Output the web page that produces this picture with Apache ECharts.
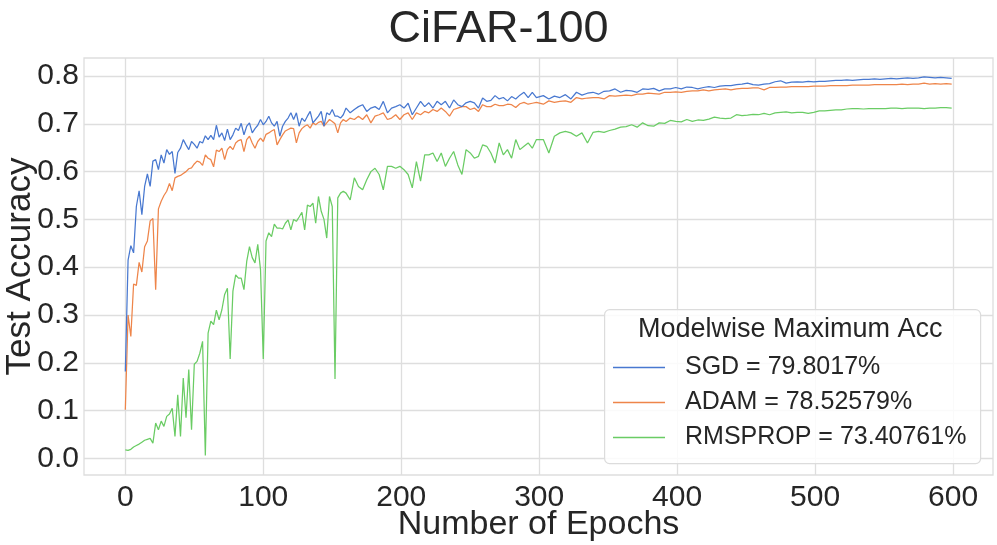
<!DOCTYPE html>
<html><head><meta charset="utf-8">
<script src="https://cdn.jsdelivr.net/npm/echarts/dist/echarts.min.js"></script>
<style>html,body{margin:0;padding:0;background:#fff}#c{width:997px;height:545px}</style>
</head><body><div id="c"></div>
<script>
const epochs = [0,2,4,6,8,10,12,14,16,18,20,22,24,26,28,30,32,34,36,38,40,42,44,46,48,50,52,54,56,58,60,62,64,66,68,70,72,74,76,78,80,82,84,86,88,90,92,94,96,98,100,102,104,106,108,110,112,114,116,118,120,122,124,126,128,130,132,134,136,138,140,142,144,146,148,150,152,154,156,158,160,
163,166,169,172,175,178,181,184,187,190,193,196,199,202,205,208,211,214,217,220,223,226,229,232,235,238,241,244,247,250,253,256,259,262,265,268,271,274,277,280,283,286,289,292,295,298,
303,307,311,315,319,323,327,331,335,339,343,347,351,355,359,363,367,371,375,379,383,387,391,395,399,403,407,411,415,419,423,427,431,435,439,443,447,451,455,459,463,467,471,475,479,483,487,491,495,499,503,507,511,515,519,523,527,531,535,539,543,547,551,555,559,563,567,571,575,579,583,587,591,595,599];

const sgd = [0.182,0.415,0.445,0.430,0.527,0.560,0.510,0.569,0.595,0.569,0.622,0.625,0.604,0.635,0.618,0.646,0.636,0.642,0.596,0.640,0.649,0.667,0.656,0.646,0.663,0.657,0.649,0.663,0.660,0.675,0.667,0.676,0.667,0.697,0.672,0.681,0.665,0.689,0.667,0.677,0.691,0.686,0.701,0.677,0.695,0.702,0.681,0.690,0.697,0.709,0.698,0.705,0.716,0.702,0.695,0.705,0.674,0.695,0.705,0.712,0.723,0.709,0.723,0.695,0.712,0.705,0.716,0.726,0.702,0.709,0.716,0.726,0.695,0.723,0.719,0.730,0.716,0.716,0.712,0.719,0.733,
0.723,0.730,0.736,0.740,0.726,0.733,0.736,0.730,0.747,0.723,0.733,0.736,0.740,0.733,0.743,0.719,0.733,0.747,0.736,0.744,0.733,0.747,0.740,0.747,0.733,0.750,0.740,0.736,0.744,0.747,0.744,0.733,0.754,0.747,0.749,0.759,0.752,0.755,0.748,0.757,0.752,0.760,0.766,0.755,0.766,0.755,
0.759,0.752,0.758,0.755,0.761,0.752,0.766,0.760,0.764,0.766,0.762,0.768,0.769,0.773,0.766,0.770,0.769,0.766,0.773,0.772,0.774,0.769,0.773,0.773,0.776,0.773,0.777,0.776,0.773,0.776,0.778,0.776,0.779,0.780,0.780,0.782,0.783,0.785,0.782,0.781,0.783,0.784,0.788,0.790,0.785,0.787,0.788,0.787,0.789,0.788,0.789,0.789,0.790,0.791,0.791,0.792,0.791,0.792,0.793,0.793,0.794,0.793,0.794,0.795,0.794,0.795,0.796,0.795,0.796,0.798,0.797,0.796,0.797,0.796,0.795];

const adam = [0.102,0.300,0.255,0.365,0.362,0.410,0.390,0.443,0.455,0.497,0.502,0.353,0.522,0.538,0.550,0.559,0.575,0.560,0.587,0.590,0.592,0.596,0.600,0.606,0.608,0.616,0.622,0.620,0.613,0.635,0.628,0.625,0.610,0.645,0.642,0.649,0.625,0.646,0.653,0.646,0.660,0.665,0.667,0.642,0.667,0.674,0.660,0.649,0.663,0.670,0.663,0.678,0.681,0.685,0.688,0.656,0.667,0.677,0.685,0.688,0.691,0.690,0.660,0.681,0.690,0.695,0.698,0.691,0.702,0.698,0.703,0.705,0.695,0.702,0.709,0.705,0.700,0.681,0.702,0.709,0.705,
0.712,0.709,0.716,0.709,0.719,0.702,0.716,0.719,0.723,0.709,0.712,0.719,0.709,0.719,0.723,0.709,0.723,0.719,0.726,0.723,0.730,0.726,0.733,0.726,0.716,0.730,0.733,0.736,0.736,0.730,0.733,0.726,0.740,0.736,0.736,0.741,0.738,0.738,0.741,0.740,0.734,0.742,0.745,0.741,0.743,0.745,
0.741,0.748,0.745,0.747,0.748,0.745,0.755,0.752,0.754,0.755,0.755,0.752,0.759,0.758,0.759,0.760,0.759,0.762,0.762,0.764,0.763,0.762,0.766,0.766,0.767,0.766,0.768,0.769,0.769,0.771,0.769,0.771,0.772,0.773,0.771,0.773,0.774,0.774,0.775,0.775,0.771,0.776,0.776,0.777,0.777,0.778,0.778,0.778,0.778,0.779,0.779,0.779,0.780,0.780,0.780,0.780,0.781,0.781,0.781,0.781,0.782,0.782,0.782,0.782,0.782,0.783,0.782,0.783,0.783,0.785,0.783,0.784,0.783,0.784,0.783];

const rmsprop = [0.018,0.017,0.019,0.024,0.027,0.030,0.034,0.038,0.040,0.042,0.032,0.074,0.060,0.078,0.067,0.088,0.093,0.105,0.046,0.133,0.046,0.168,0.085,0.186,0.060,0.197,0.203,0.220,0.245,0.006,0.262,0.287,0.280,0.310,0.290,0.311,0.343,0.356,0.208,0.350,0.384,0.377,0.377,0.353,0.412,0.443,0.420,0.409,0.448,0.395,0.208,0.455,0.472,0.464,0.490,0.482,0.482,0.480,0.492,0.499,0.478,0.500,0.496,0.505,0.515,0.478,0.530,0.527,0.534,0.492,0.548,0.517,0.500,0.461,0.548,0.527,0.166,0.545,0.555,0.559,0.555,
0.541,0.587,0.569,0.562,0.583,0.600,0.607,0.594,0.562,0.611,0.611,0.607,0.611,0.604,0.594,0.566,0.621,0.580,0.635,0.635,0.639,0.621,0.639,0.611,0.628,0.642,0.614,0.594,0.646,0.639,0.628,0.632,0.656,0.653,0.639,0.618,0.660,0.635,0.646,0.628,0.667,0.646,0.653,0.660,0.649,0.667,
0.667,0.639,0.674,0.681,0.684,0.681,0.674,0.681,0.660,0.682,0.684,0.682,0.686,0.689,0.693,0.694,0.698,0.693,0.702,0.696,0.695,0.702,0.701,0.707,0.705,0.704,0.709,0.705,0.708,0.707,0.710,0.714,0.712,0.711,0.712,0.719,0.717,0.718,0.720,0.719,0.722,0.719,0.723,0.724,0.725,0.723,0.724,0.724,0.722,0.724,0.727,0.727,0.728,0.729,0.729,0.731,0.732,0.732,0.731,0.732,0.732,0.732,0.732,0.733,0.733,0.732,0.733,0.733,0.733,0.732,0.733,0.733,0.734,0.734,0.733];

const seriesNames = ['SGD = 79.8017%', 'ADAM = 78.52579%', 'RMSPROP = 73.40761%'];
const seriesColors = ['#4878d0', '#ee854a', '#6acc64'];
const xTicks = [0, 100, 200, 300, 400, 500, 600];
const yTicks = [0.0, 0.1, 0.2, 0.3, 0.4, 0.5, 0.6, 0.7, 0.8];

const FONT = 'Liberation Sans, Arial, Helvetica, sans-serif';
const TXT = '#262626';
const GRIDC = '#dedede';

const chart = echarts.init(document.getElementById('c'), null, {renderer: 'canvas'});
const allSeries = [sgd, adam, rmsprop].map((vals, k) => ({
  name: seriesNames[k],
  type: 'line',
  data: epochs.map((e, i) => [e, vals[i]]),
  symbol: 'none',
  showSymbol: false,
  smooth: false,
  lineStyle: {color: seriesColors[k], width: 1.25},
  itemStyle: {color: seriesColors[k]},
  z: 5 - k
}));

chart.setOption({
  animation: false,
  backgroundColor: '#ffffff',
  textStyle: {fontFamily: FONT},
  title: [
    {text: 'CiFAR-100', left: 'center', top: 7, padding: 0,
     textStyle: {fontFamily: FONT, fontSize: 45, fontWeight: 'normal', color: TXT}},
    {text: 'Modelwise Maximum Acc', left: 638, top: 316, padding: 0, z: 10,
     textStyle: {fontFamily: FONT, fontSize: 27, fontWeight: 'normal', color: TXT}}
  ],
  grid: {left: 84, top: 58, width: 909, height: 417, show: true,
         outerBoundsMode: 'none', containLabel: false,
         borderColor: GRIDC, borderWidth: 1.3, backgroundColor: 'transparent'},
  xAxis: {
    type: 'value', min: -29.95, max: 628.95,
    axisLine: {show: false},
    axisTick: {show: false, customValues: xTicks},
    splitLine: {show: true, lineStyle: {color: GRIDC, width: 1.3}},
    axisLabel: {fontFamily: FONT, fontSize: 30, color: TXT, margin: 8,
      customValues: xTicks, formatter: v => String(Math.round(v))},
    name: 'Number of Epochs', nameLocation: 'middle', nameGap: 33, nameMoveOverlap: false,
    nameTextStyle: {fontFamily: FONT, fontSize: 34, color: TXT}
  },
  yAxis: {
    type: 'value', min: -0.0347, max: 0.8377,
    axisLine: {show: false},
    axisTick: {show: false, customValues: yTicks},
    splitLine: {show: true, lineStyle: {color: GRIDC, width: 1.3}},
    axisLabel: {fontFamily: FONT, fontSize: 30, color: TXT, margin: 5,
      customValues: yTicks, formatter: v => v.toFixed(1)},
    name: 'Test Accuracy', nameLocation: 'middle', nameGap: 46, nameMoveOverlap: false,
    nameTextStyle: {fontFamily: FONT, fontSize: 35, color: TXT}
  },
  legend: {
    orient: 'vertical', left: 613, top: 355, padding: 0,
    icon: 'rect', itemWidth: 52, itemHeight: 1.4, itemGap: 10, z: 10,
    data: seriesNames,
    textStyle: {fontFamily: FONT, fontSize: 25, color: TXT, lineHeight: 25, padding: [0, 0, 0, 15]}
  },
  graphic: [{
    type: 'rect', left: 604, top: 309, z: 8,
    shape: {width: 376, height: 154, r: 5},
    style: {fill: 'rgba(255,255,255,0.85)', stroke: '#dcdcdc', lineWidth: 1.2}
  }],
  series: allSeries
});
</script></body></html>
